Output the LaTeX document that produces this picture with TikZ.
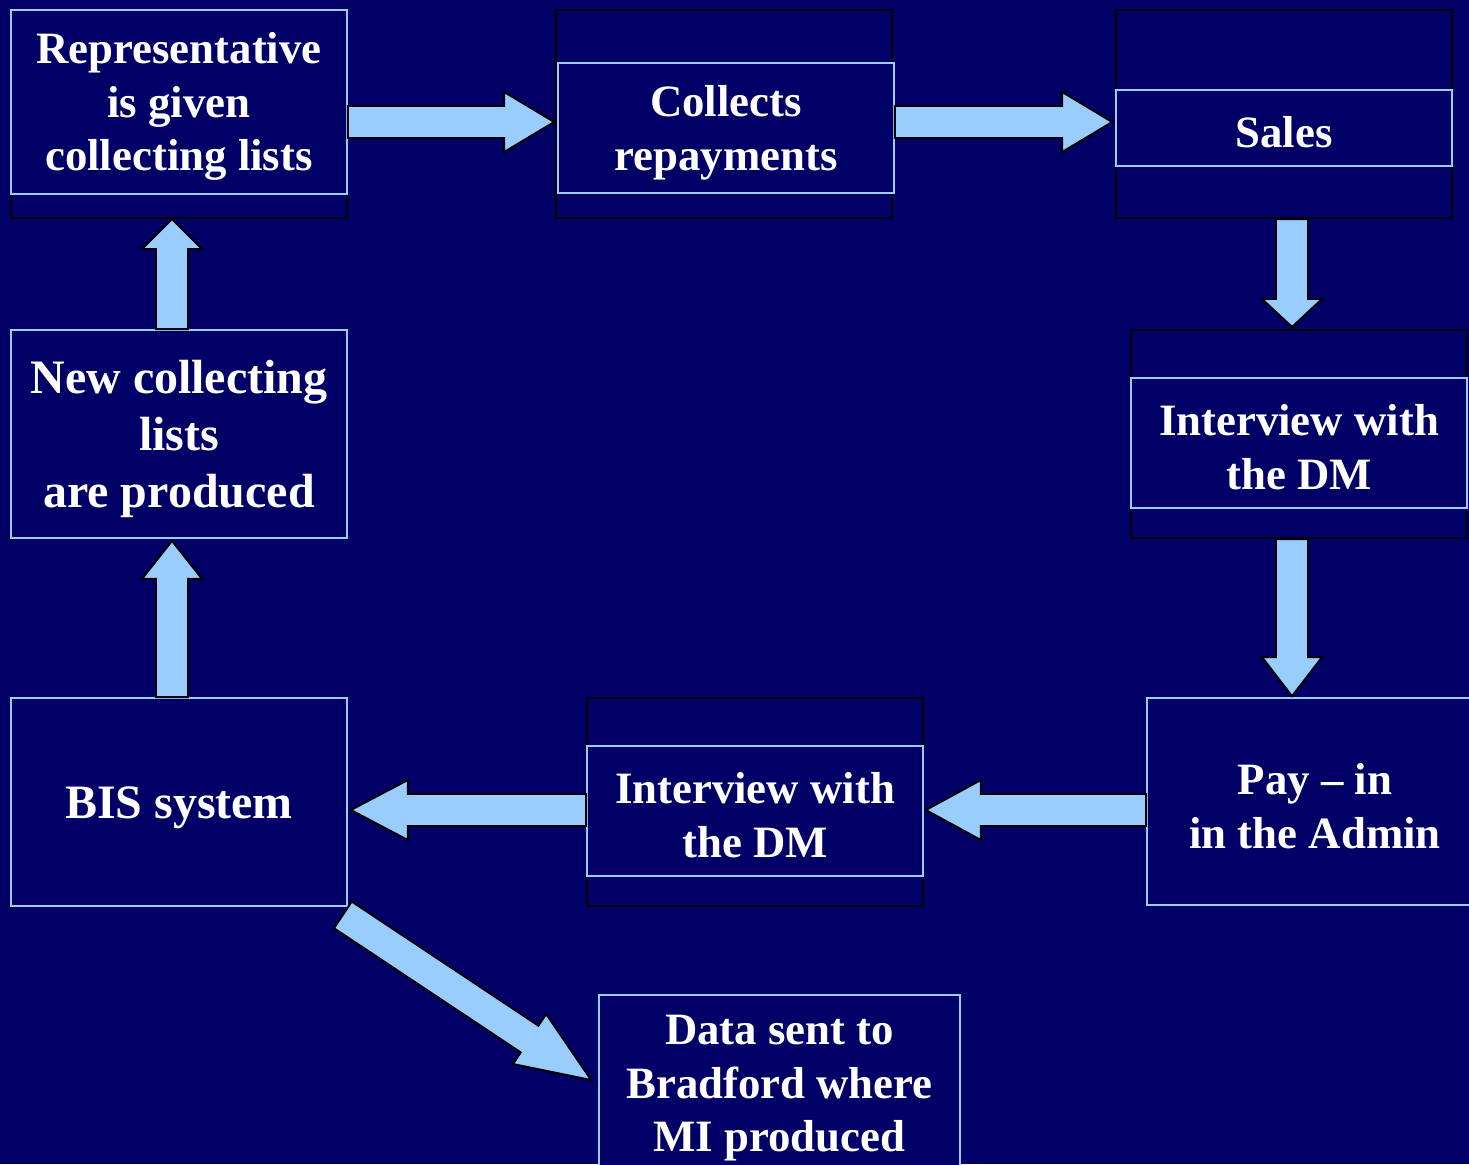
\documentclass[tikz,border=0pt]{standalone}
\usepackage{fontspec}
\setmainfont{Liberation Serif}
\usetikzlibrary{calc}

\definecolor{navy}{HTML}{000066}
\definecolor{skyblue}{HTML}{99CCFF}

% block arrow from #2 to #3, head length #1
\newcommand{\fatarrow}[3][1cm]{%
  \draw[fat] let \p1=(#2), \p2=(#3),
      \n1={atan2(\y2-\y1,\x2-\x1)}, \n2={veclen(\x2-\x1,\y2-\y1)} in
    [shift={(\p1)}, rotate=\n1]
    (0pt,-0.32cm) -- ({\n2-#1},-0.32cm) -- ({\n2-#1},-0.6cm) -- (\n2,0pt)
    -- ({\n2-#1},0.6cm) -- ({\n2-#1},0.32cm) -- (0pt,0.32cm) -- cycle;}
\newcommand{\linestrut}{\rule{0pt}{0.891em}}

\begin{document}
\begin{tikzpicture}[x=0.02cm, y=-0.02cm,
    stepbox/.style={draw=skyblue, line width=1pt, fill=navy, text=white,
      font=\fontsize{25.5}{30.6}\selectfont\bfseries, align=center,
      minimum width=6.72cm, inner sep=0pt},
    bigtext/.style={font=\fontsize{27.3}{32.6}\selectfont\bfseries},
    outerbox/.style={draw=black, line width=1.2pt, fill=navy,
      minimum width=6.72cm, minimum height=4.16cm, inner sep=0pt},
    fat/.style={fill=skyblue, draw=black, line width=1.1pt, line join=miter}]

    \fill[navy] (0,0) rectangle (1469,1164);
    \useasboundingbox (0,0) rectangle (1469,1164);

    % top row
    \node[outerbox] (repOut) at (179,114) {};
    \node[stepbox, minimum height=3.68cm] (rep) at (179,102) {\linestrut Representative\\is given\\collecting lists};
    \node[outerbox] (collOut) at (724,114) {};
    \node[stepbox, minimum height=2.6cm] (coll) at (726,128) {\linestrut Collects\\repayments};
    \node[outerbox] (salesOut) at (1284,114) {};
    \node[stepbox, minimum height=1.52cm] (sales) at (1284,128) {\linestrut Sales};

    % right column
    \node[outerbox] (intROut) at (1299,434) {};
    \node[stepbox, minimum height=2.6cm] (intR) at (1299,443) {\linestrut Interview with\\the DM};
    \node[stepbox, minimum height=4.14cm] (pay) at (1315,801.5) {\linestrut Pay -- in\\in the Admin};

    % bottom row
    \node[outerbox] (intBOut) at (755,802) {};
    \node[stepbox, minimum height=2.6cm] (intB) at (755,811) {\linestrut Interview with\\the DM};
    \node[stepbox, bigtext, minimum height=4.16cm] (bis) at (179,802) {\linestrut BIS system};
    \node[stepbox, bigtext, minimum height=4.16cm] (new) at (179,434) {\linestrut New collecting\\lists\\are produced};
    \node[stepbox, minimum width=7.22cm, minimum height=3.52cm] (data) at (779.5,1083) {\linestrut Data sent to\\Bradford where\\MI produced};

    % arrows
    \fatarrow{$(rep.east)+(0,20)$}{$(coll.west)+(-3,-6)$}
    \fatarrow{$(coll.east)+(0,-6)$}{$(sales.west)+(-3,-6)$}
    \fatarrow[0.56cm]{$(salesOut.south)+(8,0)$}{$(intROut.north)+(-7,-2)$}
    \fatarrow[0.78cm]{$(intROut.south)+(-7,0)$}{$(pay.north)+(-23,-1)$}
    \fatarrow[1.1cm]{$(pay.west)+(0,8.5)$}{$(intB.east)+(2,-1)$}
    \fatarrow[1.14cm]{$(intB.west)+(0,-1)$}{$(bis.east)+(3,8)$}
    \fatarrow[0.76cm]{$(bis.north)+(-7,0)$}{$(new.south)+(-7,2)$}
    \fatarrow[0.6cm]{$(new.north)+(-7,0)$}{$(repOut.south)+(-7,0)$}
    \fatarrow[1.48cm]{$(bis.south east)+(-5,8)$}{$(data.west)+(-7,-3)$}
\end{tikzpicture}
\end{document}
